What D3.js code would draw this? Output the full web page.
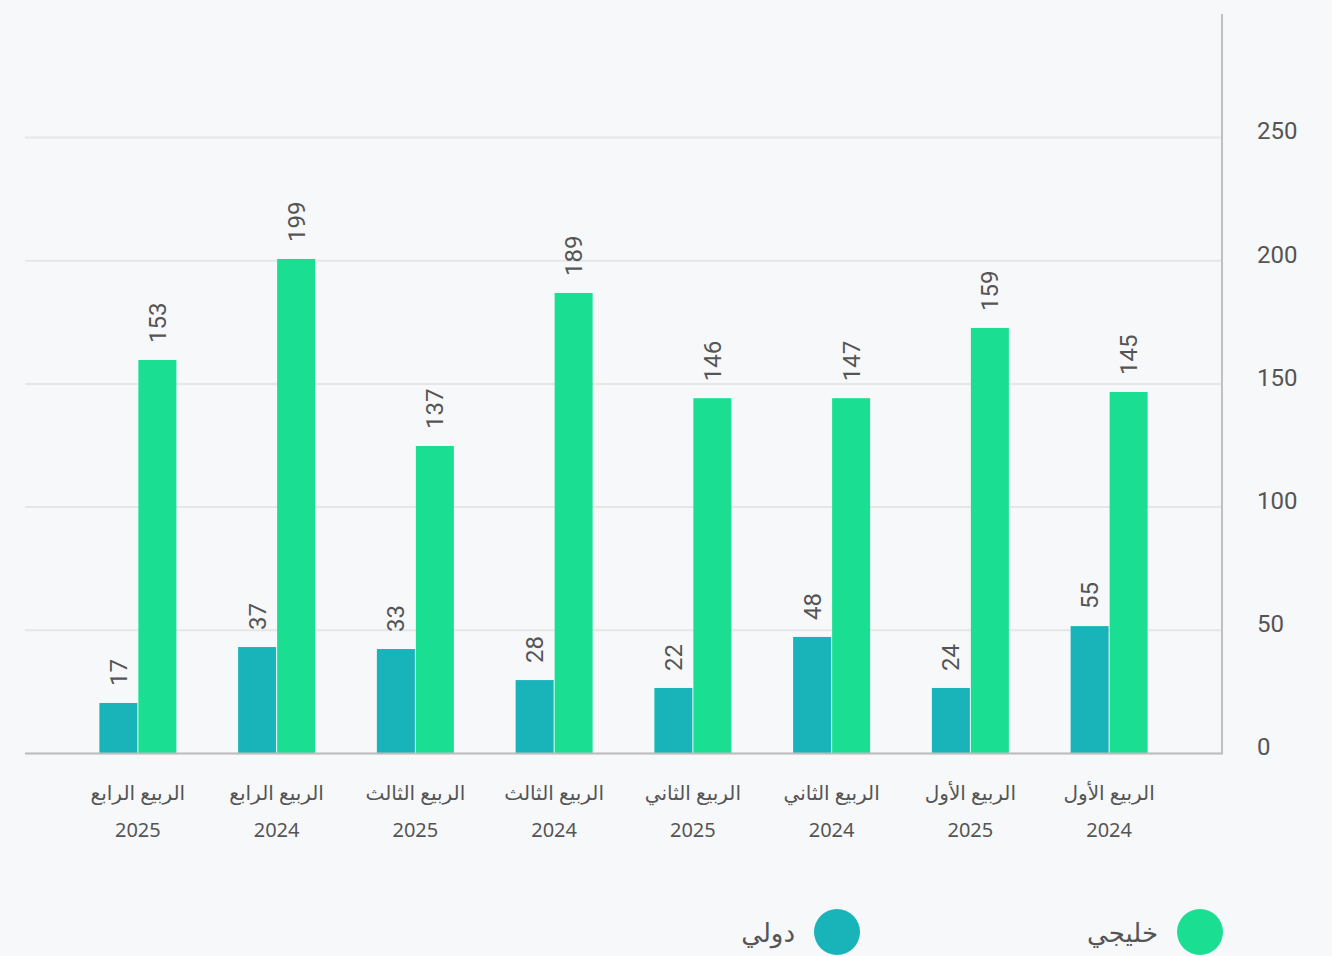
<!DOCTYPE html>
<html>
<head>
<meta charset="utf-8">
<script src="https://cdn.jsdelivr.net/npm/d3@7"></script>
<style>
  html, body { margin: 0; padding: 0; background: #f7f8fa; }
  svg { display: block; font-family: "Noto Sans", "DejaVu Sans", sans-serif; }
</style>
</head>
<body>
<div id="chart-area"></div>
<script>
// data, in chronological order (drawn right to left)
var quarters = ["الربيع الأول", "الربيع الأول", "الربيع الثاني", "الربيع الثاني",
                "الربيع الثالث", "الربيع الثالث", "الربيع الرابع", "الربيع الرابع"];
var years = ["2024", "2025", "2024", "2025", "2024", "2025", "2024", "2025"];

// printed value labels
var gulfLabels = [145, 159, 147, 146, 189, 137, 199, 153];
var intlLabels = [55, 24, 48, 22, 28, 33, 37, 17];

// bar heights as drawn in the picture
var gulfBars = [146.5, 172.5, 144, 144, 186.7, 124.6, 200.5, 159.5];
var intlBars = [51.5, 26.4, 47.1, 26.4, 29.6, 42.2, 43, 20.3];

var yTicks = [0, 50, 100, 150, 200, 250];
var seriesNames = ["خليجي", "دولي"];
var colors = { gulf: "#1adf93", intl: "#18b4ba" };

var W = 1332, H = 956;
var margin = { top: 14, left: 25, right: 110, bottom: 203 };
var width = W - margin.left - margin.right;

var svg = d3.select("#chart-area")
    .append("svg")
        .attr("width", W)
        .attr("height", H);

var g = svg.append("g")
    .attr("transform", "translate(" + margin.left + ", " + margin.top + ")");

var data = quarters.map(function(q, i) {
    return { key: i, quarter: q, year: years[i],
             gulf: gulfBars[i], intl: intlBars[i],
             gulfLabel: gulfLabels[i], intlLabel: intlLabels[i] };
});

var x = d3.scaleBand()
    .domain(data.map(function(d) { return d.key; }))
    .range([1153.5, 43.5]);

// y(0) = 753 on page, y(250) = 137 on page
var y = d3.scaleLinear()
    .domain([0, 250])
    .range([739, 123]);

var barW = 38;

// grid + right axis
var yAxisCall = d3.axisRight(y)
    .tickValues(yTicks)
    .tickSize(-width)
    .tickPadding(0)
    .tickFormat(function(d) { return d; });

var yAxis = g.append("g")
    .attr("class", "y-axis")
    .attr("transform", "translate(" + width + ", 0)")
    .call(yAxisCall);

yAxis.select(".domain").remove();
yAxis.selectAll(".tick line")
    .attr("stroke", "#e6e6e6")
    .attr("stroke-width", 2);
yAxis.selectAll(".tick text")
    .attr("x", 35)
    .attr("dy", "0.08em")
    .attr("fill", "#555")
    .attr("font-size", "24px")
    .attr("font-family", "Roboto, 'Noto Sans', sans-serif");

// vertical axis line
g.append("line")
    .attr("x1", width).attr("x2", width)
    .attr("y1", 0).attr("y2", y(0) + 1)
    .attr("stroke", "#c0c0c0")
    .attr("stroke-width", 2);

// bars
var groups = g.selectAll(".grp")
    .data(data)
    .enter()
    .append("g")
        .attr("class", "grp");

groups.append("rect")
    .attr("x", function(d) { return x(d.key) + x.bandwidth() / 2 - barW - 0.5; })
    .attr("y", function(d) { return y(d.intl); })
    .attr("width", barW)
    .attr("height", function(d) { return y(0) - y(d.intl); })
    .attr("fill", colors.intl);

groups.append("rect")
    .attr("x", function(d) { return x(d.key) + x.bandwidth() / 2 + 0.5; })
    .attr("y", function(d) { return y(d.gulf); })
    .attr("width", barW)
    .attr("height", function(d) { return y(0) - y(d.gulf); })
    .attr("fill", colors.gulf);

// value labels
function valueLabel(sel, cxFn, topFn, txtFn) {
    sel.append("text")
        .attr("transform", function(d) {
            return "translate(" + cxFn(d) + "," + (topFn(d) - 17) + ") rotate(-90)";
        })
        .attr("text-anchor", "start")
        .attr("dominant-baseline", "central")
        .attr("fill", "#555")
        .attr("font-size", "24px")
        .attr("font-family", "Roboto, 'Noto Sans', sans-serif")
        .text(txtFn);
}

valueLabel(groups,
    function(d) { return x(d.key) + x.bandwidth() / 2 - barW / 2; },
    function(d) { return y(d.intl); },
    function(d) { return d.intlLabel; });

valueLabel(groups,
    function(d) { return x(d.key) + x.bandwidth() / 2 + barW / 2 + 1; },
    function(d) { return y(d.gulf); },
    function(d) { return d.gulfLabel; });

// baseline
g.append("line")
    .attr("x1", 0).attr("x2", width + 1)
    .attr("y1", y(0) + 0.5).attr("y2", y(0) + 0.5)
    .attr("stroke", "#bdbdbd")
    .attr("stroke-width", 2);

// category labels
groups.append("text")
    .attr("x", function(d) { return x(d.key) + x.bandwidth() / 2; })
    .attr("y", 786)
    .attr("text-anchor", "middle")
    .attr("direction", "rtl")
    .attr("fill", "#555")
    .attr("font-size", "20px")
    .text(function(d) { return d.quarter; });

groups.append("text")
    .attr("x", function(d) { return x(d.key) + x.bandwidth() / 2; })
    .attr("y", 823)
    .attr("text-anchor", "middle")
    .attr("fill", "#555")
    .attr("font-size", "20px")
    .text(function(d) { return d.year; });

// legend
var legendX = [1200, 837];
var legendColors = [colors.gulf, colors.intl];

var legend = svg.selectAll(".legend")
    .data(seriesNames)
    .enter()
    .append("g")
        .attr("class", "legend")
        .attr("transform", function(d, i) {
            return "translate(" + legendX[i] + ", 932)";
        });

legend.append("circle")
    .attr("r", 23)
    .attr("fill", function(d, i) { return legendColors[i]; });

legend.append("text")
    .attr("x", -42)
    .attr("y", 0)
    .attr("dominant-baseline", "central")
    .attr("text-anchor", "end")
    .attr("fill", "#555")
    .attr("font-size", "26px")
    .text(function(d) { return d; });
</script>
</body>
</html>
